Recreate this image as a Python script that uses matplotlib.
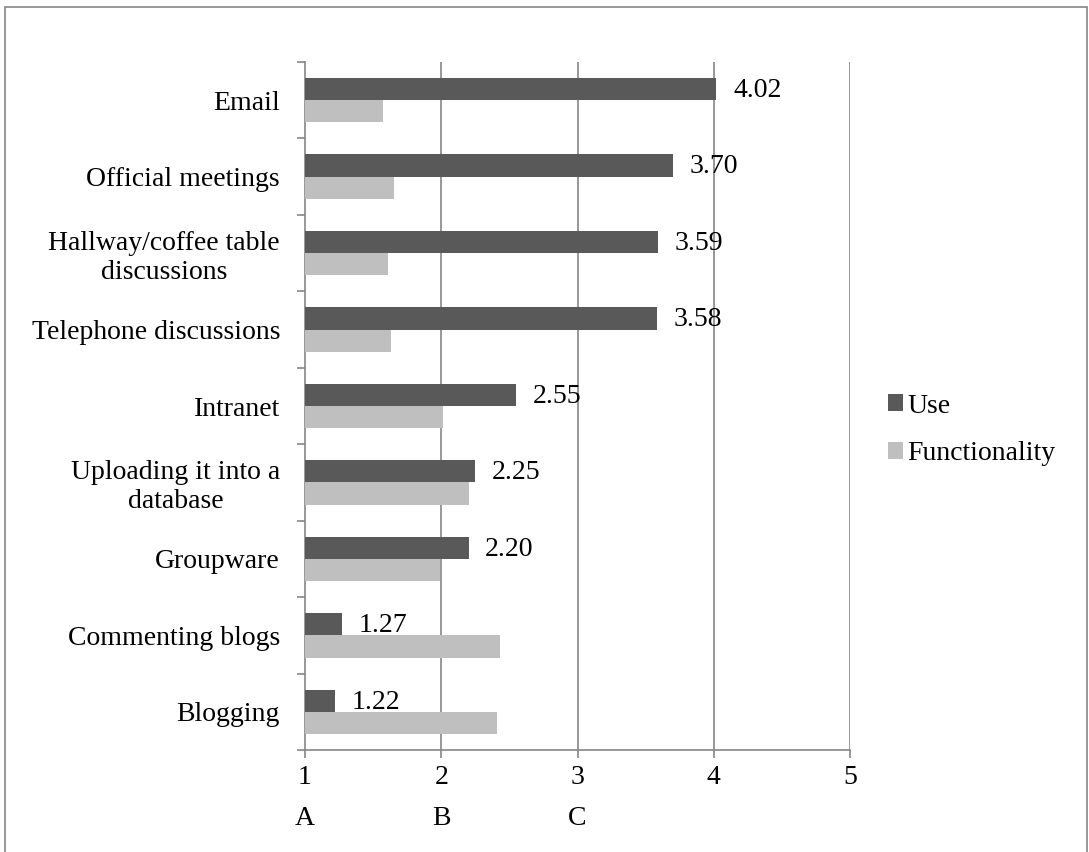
import matplotlib.pyplot as plt
from matplotlib.patches import Rectangle, Patch

categories = [
    "Email",
    "Official meetings",
    "Hallway/coffee table\ndiscussions",
    "Telephone discussions",
    "Intranet",
    "Uploading it into a\ndatabase",
    "Groupware",
    "Commenting blogs",
    "Blogging",
]
use_values = [4.02, 3.70, 3.59, 3.58, 2.55, 2.25, 2.20, 1.27, 1.22]
functionality_values = [1.57, 1.65, 1.61, 1.63, 2.01, 2.20, 1.99, 2.43, 2.41]
x_ticks = [1, 2, 3, 4, 5]
scale_letters = ["A", "B", "C"]

USE_COLOR = "#595959"
FUNC_COLOR = "#bfbfbf"
AXIS_COLOR = "#868686"

plt.rcParams["font.family"] = ["Liberation Serif", "DejaVu Serif"]
FS = 20

W, H = 1089, 852
fig = plt.figure(figsize=(W / 100, H / 100), dpi=100)
fig.patch.set_facecolor("white")

# outer frame around the whole chart (bottom edge runs off the canvas)
fig.add_artist(Rectangle((5 / W, 1 - 856 / H), 1082 / W, 849 / H,
                         transform=fig.transFigure, fill=False,
                         edgecolor=AXIS_COLOR, linewidth=1.2))

left, right, top, bottom = 305, 850, 62, 750
ax = fig.add_axes([left / W, 1 - bottom / H, (right - left) / W, (bottom - top) / H])

n = len(categories)
pos = list(range(n))
bh = 0.29
ax.barh([p - bh / 2 for p in pos], [v - 1 for v in use_values], left=1,
        height=bh, color=USE_COLOR, label="Use", zorder=3)
ax.barh([p + bh / 2 for p in pos], [v - 1 for v in functionality_values], left=1,
        height=bh, color=FUNC_COLOR, label="Functionality", zorder=3)

for p, v in zip(pos, use_values):
    ax.annotate(f"{v:.2f}", xy=(v, p - bh / 2), xytext=(12, -1),
                textcoords="offset points", ha="left", va="center",
                fontsize=FS, zorder=4)

ax.set_xlim(1, 5)
ax.set_ylim(n - 0.5, -0.5)

# vertical gridlines
for t in x_ticks[1:]:
    ax.axvline(t, color=AXIS_COLOR, linewidth=1.2, zorder=1)

for s in ["top", "right"]:
    ax.spines[s].set_visible(False)
for s in ["left", "bottom"]:
    ax.spines[s].set_color(AXIS_COLOR)
    ax.spines[s].set_linewidth(1.2)

ax.set_xticks(x_ticks)
ax.set_xticklabels([str(t) for t in x_ticks], fontsize=FS)
ax.tick_params(axis="x", direction="out", length=6, width=1.2,
               color=AXIS_COLOR, pad=5)

ax.set_yticks([i - 0.5 for i in range(n + 1)])
ax.set_yticklabels([])
ax.tick_params(axis="y", which="major", direction="out", length=6,
               width=1.2, color=AXIS_COLOR)
ax.set_yticks(pos, minor=True)
ax.set_yticklabels(categories, minor=True, fontsize=FS, multialignment="center")
ax.tick_params(axis="y", which="minor", length=0, pad=18)

# letter scale under the first three ticks
for t, letter in zip(x_ticks, scale_letters):
    ax.text(t, -0.1, letter, transform=ax.get_xaxis_transform(),
            ha="center", va="center", fontsize=FS)

handles = [Patch(facecolor=USE_COLOR, label="Use"),
           Patch(facecolor=FUNC_COLOR, label="Functionality")]
fig.legend(handles=handles, loc="center left",
           bbox_to_anchor=(888 / W, 1 - 430 / H), frameon=False,
           fontsize=FS, handlelength=0.55, handleheight=0.55,
           handletextpad=0.15, labelspacing=0.82, borderaxespad=0,
           borderpad=0)

fig.savefig("out.png", dpi=100, facecolor="white")
